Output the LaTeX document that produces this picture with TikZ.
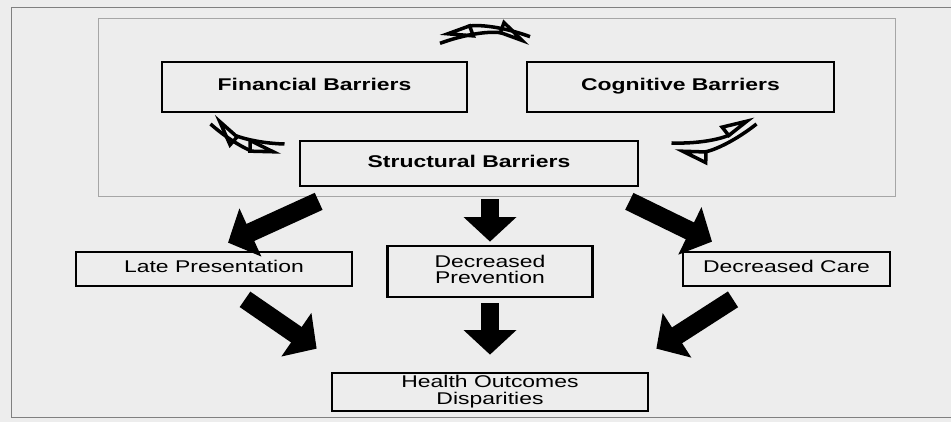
\documentclass[tikz,border=0pt]{standalone}
\usepackage{fontspec}
\newfontfamily\arialf{Liberation Sans}
\usetikzlibrary{arrows.meta}
\newcommand{\wtxt}[1]{\scalebox{1.35}[1]{\begin{tabular}{@{}c@{}}#1\end{tabular}}}
\renewcommand{\arraystretch}{0.85}
\tikzset{
  box/.style={draw, line width=2.3pt, inner sep=0pt, font=\arialf\fontsize{14.5}{15}\selectfont},
  bbox/.style={box, font=\arialf\bfseries\fontsize{14.5}{15}\selectfont},
  blk/.style={line width=16pt, -{Triangle[length=21pt,width=44pt]}},
  curv/.style={line width=3pt, -{Triangle[open,harpoon,length=25pt,width=22pt]}},
}
\begin{document}
\begin{tikzpicture}[x=0.3mm,y=0.3mm]
\useasboundingbox (0,0) rectangle (951,422);
\fill[black!7] (0,0) rectangle (951,422);
% page edge and text block
\draw[gray, line width=0.8pt] (951,415) -- (11,415) -- (11,5) -- (951,5);
\draw[gray!70, line width=0.6pt] (98,226) rectangle (895,404);

% barriers
\node[bbox, minimum width=91.5mm, minimum height=15mm] (F) at (314.5,335) {\wtxt{Financial Barriers}};
\node[bbox, minimum width=92.1mm, minimum height=15mm] (C) at (680.5,335) {\wtxt{Cognitive Barriers}};
\node[bbox, minimum width=101.4mm, minimum height=13.5mm] (S) at (469,258.5) {\wtxt{Structural Barriers}};

% effects
\node[box, minimum width=82.8mm, minimum height=10.2mm] (LP) at (214,153) {\wtxt{Late Presentation}};
\node[box, minimum width=61.5mm, minimum height=15.3mm] (DP) at (490,150.5) {\wtxt{Decreased\\Prevention}};
\node[box, minimum width=62.1mm, minimum height=10.2mm] (DC) at (786.5,153) {\wtxt{Decreased Care}};
\node[box, minimum width=94.8mm, minimum height=11.4mm] (HO) at (490,30) {\wtxt{Health Outcomes\\Disparities}};

% two way arrows
\coordinate (sw1) at (440,382);
\coordinate (sw2) at (530,382);
\draw[curv] ([yshift=1mm]sw2) to[bend right=20] ([yshift=1mm]sw1);
\draw[curv] ([yshift=-1mm]sw1) to[bend left=20] ([yshift=-1mm]sw2);

\coordinate (fl1) at (212,302);
\coordinate (fl2) at (283,274);
\draw[curv] ([shift={(1.5,4)}]fl2) to[bend left=20] ([shift={(1.5,4)}]fl1);
\draw[curv] ([shift={(-1.5,-4)}]fl1) to[bend right=20] ([shift={(-1.5,-4)}]fl2);

\coordinate (cr1) at (755,302);
\coordinate (cr2) at (673,275);
\draw[curv] ([shift={(-1.5,4)}]cr2) to[bend right=20] ([shift={(-1.5,4)}]cr1);
\draw[curv] ([shift={(1.5,-4)}]cr1) to[bend left=20] ([shift={(1.5,-4)}]cr2);

% block arrows
\draw[blk] ([shift={(20,-14)}]S.south west) -- ([shift={(14,8)}]LP.north);
\draw[blk] ([shift={(21,-12)}]S.south) -- ([shift={(0,3)}]DP.north);
\draw[blk] ([shift={(-10,-14)}]S.south east) -- ([shift={(-74.5,9)}]DC.north);
\draw[blk] ([shift={(31,-12)}]LP.south) -- ([shift={(-14,23)}]HO.north west);
\draw[blk] ([shift={(0,-5)}]DP.south) -- ([shift={(0,17)}]HO.north);
\draw[blk] ([shift={(-53.5,-12)}]DC.south) -- ([shift={(7,23)}]HO.north east);
\end{tikzpicture}
\end{document}
